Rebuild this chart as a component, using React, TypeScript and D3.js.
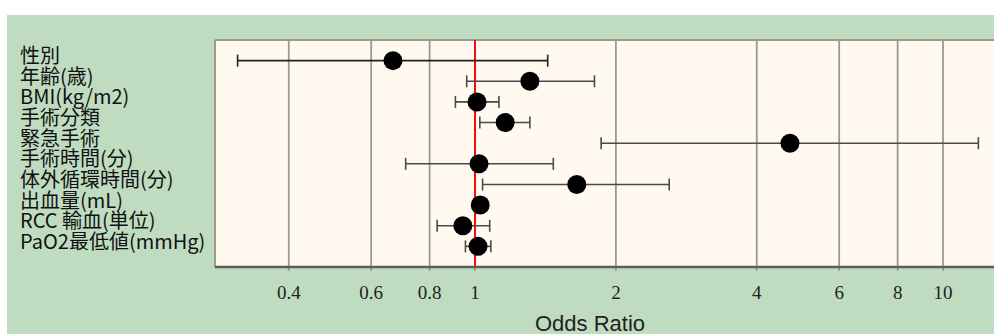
import React from "react";
import * as d3 from "d3";

const labels = [
  "性別",
  "年齢(歳)",
  "BMI(kg/m2)",
  "手術分類",
  "緊急手術",
  "手術時間(分)",
  "体外循環時間(分)",
  "出血量(mL)",
  "RCC 輸血(単位)",
  "PaO2最低値(mmHg)"
];
const oddsRatio = [0.668, 1.31, 1.01, 1.16, 4.71, 1.02, 1.65, 1.026, 0.942, 1.015];
const ciLow = [0.311, 0.96, 0.908, 1.024, 1.86, 0.711, 1.038, 1.0, 0.83, 0.954];
const ciHigh = [1.43, 1.8, 1.125, 1.31, 11.9, 1.47, 2.6, 1.05, 1.075, 1.081];
const tickValues = [0.4, 0.6, 0.8, 1, 2, 4, 6, 8, 10];

const W = 994;
const H = 334;
const plot = { left: 215, top: 40, right: 1010, bottom: 267 };

export default function App() {
  // log scale: 1 -> 475px, one decade = 468px
  const x = d3
    .scaleLog()
    .domain([0.1, 10])
    .range([475 - 468, 475 + 468]);

  const y = d3
    .scaleLinear()
    .domain([0, labels.length + 1])
    .range([plot.top, plot.bottom]);

  const gridCol = "#9a9a92";
  const barCol = "#4a4a4a";

  return (
    <div style={{ position: "fixed", left: 0, top: 0 }}>
      <svg width={W} height={H} style={{ display: "block" }}>
        <rect x={0} y={0} width={W} height={H} fill="#ffffff" />
        <rect x={7} y={15} width={W - 7} height={H - 15} fill="#bfdcc1" />
        <rect
          x={plot.left}
          y={plot.top}
          width={plot.right - plot.left}
          height={plot.bottom - plot.top}
          fill="#fff9ef"
        />

        {/* grid lines */}
        {tickValues.map((t) => (
          <line
            key={"g" + t}
            x1={x(t)}
            x2={x(t)}
            y1={plot.top}
            y2={plot.bottom + 4}
            stroke={gridCol}
            strokeWidth={1.8}
          />
        ))}

        {/* border */}
        <line x1={plot.left} x2={plot.right} y1={plot.top} y2={plot.top} stroke={gridCol} strokeWidth={1.8} />
        <line x1={plot.left} x2={plot.left} y1={plot.top} y2={plot.bottom} stroke={gridCol} strokeWidth={2} />
        <line x1={plot.left} x2={plot.right} y1={plot.bottom} y2={plot.bottom} stroke="#5a5f5a" strokeWidth={2.5} />

        {/* reference line at OR = 1 */}
        <line x1={x(1)} x2={x(1)} y1={plot.top} y2={plot.bottom} stroke="#ee1111" strokeWidth={2} />

        {/* error bars + points */}
        {labels.map((l, i) => {
          const cy = y(i + 1);
          return (
            <g key={l}>
              <line x1={x(ciLow[i])} x2={x(ciHigh[i])} y1={cy} y2={cy} stroke={i === 0 ? "#222" : barCol} strokeWidth={1.6} />
              <line x1={x(ciLow[i])} x2={x(ciLow[i])} y1={cy - 6} y2={cy + 6} stroke={i === 0 ? "#222" : barCol} strokeWidth={1.6} />
              <line x1={x(ciHigh[i])} x2={x(ciHigh[i])} y1={cy - 6} y2={cy + 6} stroke={i === 0 ? "#222" : barCol} strokeWidth={1.6} />
              <circle cx={x(oddsRatio[i])} cy={cy} r={9.5} fill="#000" />
            </g>
          );
        })}

        {/* row labels */}
        {labels.map((l, i) => (
          <text
            key={"l" + l}
            x={20}
            y={y(i + 1) - 6}
            dominantBaseline="central"
            fontFamily="'Noto Sans CJK JP', sans-serif"
            fontSize={20}
            fill="#111"
          >
            {l}
          </text>
        ))}

        {/* tick labels */}
        {tickValues.map((t) => (
          <text
            key={"t" + t}
            x={x(t)}
            y={292}
            textAnchor="middle"
            dominantBaseline="central"
            fontFamily="'Liberation Serif', serif"
            fontSize={19}
            fill="#222"
          >
            {d3.format("~g")(t)}
          </text>
        ))}

        <text
          x={590}
          y={323}
          textAnchor="middle"
          dominantBaseline="central"
          fontFamily="'Liberation Sans', sans-serif"
          fontSize={22}
          textLength={110}
          fill="#222"
        >
          Odds Ratio
        </text>
      </svg>
    </div>
  );
}
